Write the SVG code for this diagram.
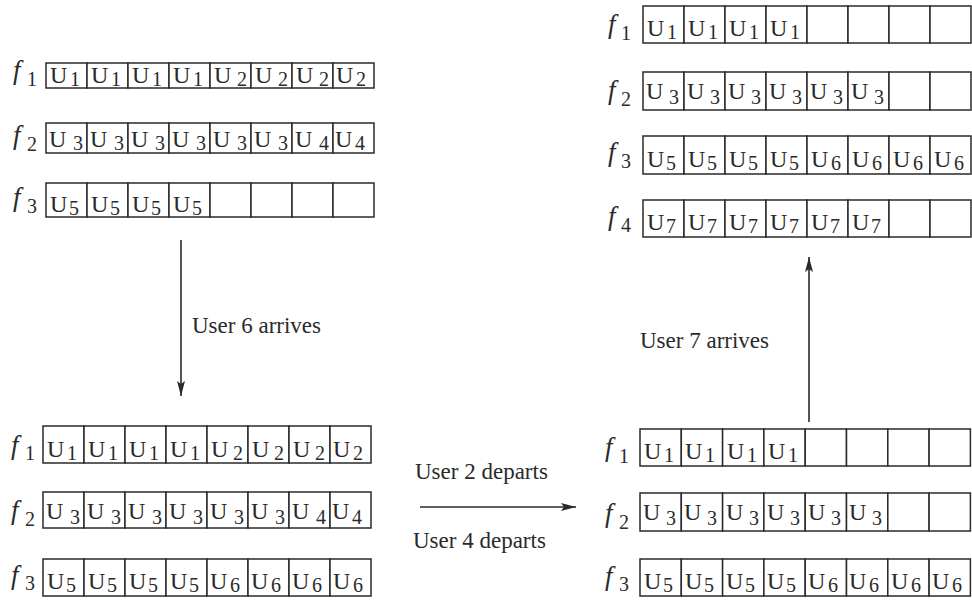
<svg xmlns="http://www.w3.org/2000/svg" width="972" height="603" viewBox="0 0 972 603">
  <style>
    .cell { fill: #fff; stroke: #2a2a2a; stroke-width: 1.5; }
    .u { font-family: "Liberation Serif", "Times New Roman", serif; font-size: 24px; fill: #2a2a2a; }
    .s { font-size: 20px; }
    .f { font-family: "Liberation Serif", "Times New Roman", serif; font-style: italic; font-size: 27px; fill: #2a2a2a; }
    .fs { font-style: normal; font-size: 20px; }
    .lbl { font-family: "Liberation Serif", "Times New Roman", serif; font-size: 23px; fill: #2a2a2a; }
    .arrow { stroke: #2a2a2a; stroke-width: 1.6; fill: none; marker-end: url(#head); }
  </style>
  <defs>
    <marker id="head" markerUnits="userSpaceOnUse" markerWidth="16" markerHeight="10" refX="15" refY="5" orient="auto">
      <path d="M0,1 L15,5 L0,9 L3,5 Z" fill="#2a2a2a"/>
    </marker>
  </defs>

  <!-- ===== Initial allocation (top left) ===== -->
  <g id="stateA">
    <g id="A-f1">
      <text class="f" x="13" y="79">f<tspan class="fs" x="27" y="86">1</tspan></text>
      <rect class="cell" x="46" y="63" width="41" height="25"/><rect class="cell" x="87" y="63" width="41" height="25"/><rect class="cell" x="128" y="63" width="41" height="25"/><rect class="cell" x="169" y="63" width="41" height="25"/><rect class="cell" x="210" y="63" width="41" height="25"/><rect class="cell" x="251" y="63" width="41" height="25"/><rect class="cell" x="292" y="63" width="41" height="25"/><rect class="cell" x="333" y="63" width="41" height="25"/>
      <text class="u" y="83"><tspan x="50">U</tspan><tspan class="s" x="70" y="86">1</tspan><tspan x="91" y="83">U</tspan><tspan class="s" x="111" y="86">1</tspan><tspan x="132" y="83">U</tspan><tspan class="s" x="152" y="86">1</tspan><tspan x="173" y="83">U</tspan><tspan class="s" x="193" y="86">1</tspan><tspan x="214" y="83">U</tspan><tspan class="s" x="237" y="86">2</tspan><tspan x="255" y="83">U</tspan><tspan class="s" x="278" y="86">2</tspan><tspan x="296" y="83">U</tspan><tspan class="s" x="319" y="86">2</tspan><tspan x="336" y="83">U</tspan><tspan class="s" x="356" y="86">2</tspan></text>
    </g>
    <g id="A-f2">
      <text class="f" x="13" y="144">f<tspan class="fs" x="27" y="151">2</tspan></text>
      <rect class="cell" x="46" y="123" width="41" height="30"/><rect class="cell" x="87" y="123" width="41" height="30"/><rect class="cell" x="128" y="123" width="41" height="30"/><rect class="cell" x="169" y="123" width="41" height="30"/><rect class="cell" x="210" y="123" width="41" height="30"/><rect class="cell" x="251" y="123" width="41" height="30"/><rect class="cell" x="292" y="123" width="41" height="30"/><rect class="cell" x="333" y="123" width="41" height="30"/>
      <text class="u" y="147"><tspan x="49">U</tspan><tspan class="s" x="73" y="150">3</tspan><tspan x="90" y="147">U</tspan><tspan class="s" x="114" y="150">3</tspan><tspan x="131" y="147">U</tspan><tspan class="s" x="155" y="150">3</tspan><tspan x="172" y="147">U</tspan><tspan class="s" x="196" y="150">3</tspan><tspan x="213" y="147">U</tspan><tspan class="s" x="237" y="150">3</tspan><tspan x="254" y="147">U</tspan><tspan class="s" x="278" y="150">3</tspan><tspan x="295" y="147">U</tspan><tspan class="s" x="319" y="150">4</tspan><tspan x="335" y="147">U</tspan><tspan class="s" x="355" y="150">4</tspan></text>
    </g>
    <g id="A-f3">
      <text class="f" x="13" y="206">f<tspan class="fs" x="27" y="213">3</tspan></text>
      <rect class="cell" x="46" y="183" width="41" height="34"/><rect class="cell" x="87" y="183" width="41" height="34"/><rect class="cell" x="128" y="183" width="41" height="34"/><rect class="cell" x="169" y="183" width="41" height="34"/><rect class="cell" x="210" y="183" width="41" height="34"/><rect class="cell" x="251" y="183" width="41" height="34"/><rect class="cell" x="292" y="183" width="41" height="34"/><rect class="cell" x="333" y="183" width="41" height="34"/>
      <text class="u" y="212"><tspan x="50">U</tspan><tspan class="s" x="69" y="215">5</tspan><tspan x="91" y="212">U</tspan><tspan class="s" x="110" y="215">5</tspan><tspan x="132" y="212">U</tspan><tspan class="s" x="151" y="215">5</tspan><tspan x="173" y="212">U</tspan><tspan class="s" x="192" y="215">5</tspan></text>
    </g>
  </g>

  <!-- ===== After user 6 arrives (bottom left) ===== -->
  <g id="stateB">
    <g id="B-f1">
      <text class="f" x="11" y="454">f<tspan class="fs" x="25" y="460">1</tspan></text>
      <rect class="cell" x="43" y="426" width="41" height="37"/><rect class="cell" x="84" y="426" width="41" height="37"/><rect class="cell" x="125" y="426" width="41" height="37"/><rect class="cell" x="166" y="426" width="41" height="37"/><rect class="cell" x="207" y="426" width="41" height="37"/><rect class="cell" x="248" y="426" width="41" height="37"/><rect class="cell" x="289" y="426" width="41" height="37"/><rect class="cell" x="330" y="426" width="41" height="37"/>
      <text class="u" y="457"><tspan x="47">U</tspan><tspan class="s" x="67" y="460">1</tspan><tspan x="88" y="457">U</tspan><tspan class="s" x="108" y="460">1</tspan><tspan x="129" y="457">U</tspan><tspan class="s" x="149" y="460">1</tspan><tspan x="170" y="457">U</tspan><tspan class="s" x="190" y="460">1</tspan><tspan x="211" y="457">U</tspan><tspan class="s" x="233" y="460">2</tspan><tspan x="252" y="457">U</tspan><tspan class="s" x="274" y="460">2</tspan><tspan x="293" y="457">U</tspan><tspan class="s" x="315" y="460">2</tspan><tspan x="333" y="457">U</tspan><tspan class="s" x="353" y="460">2</tspan></text>
    </g>
    <g id="B-f2">
      <text class="f" x="11" y="519">f<tspan class="fs" x="25" y="526">2</tspan></text>
      <rect class="cell" x="43" y="492" width="41" height="36"/><rect class="cell" x="84" y="492" width="41" height="36"/><rect class="cell" x="125" y="492" width="41" height="36"/><rect class="cell" x="166" y="492" width="41" height="36"/><rect class="cell" x="207" y="492" width="41" height="36"/><rect class="cell" x="248" y="492" width="41" height="36"/><rect class="cell" x="289" y="492" width="41" height="36"/><rect class="cell" x="330" y="492" width="41" height="36"/>
      <text class="u" y="519"><tspan x="46">U</tspan><tspan class="s" x="70" y="524">3</tspan><tspan x="87" y="519">U</tspan><tspan class="s" x="111" y="524">3</tspan><tspan x="128" y="519">U</tspan><tspan class="s" x="152" y="524">3</tspan><tspan x="169" y="519">U</tspan><tspan class="s" x="193" y="524">3</tspan><tspan x="210" y="519">U</tspan><tspan class="s" x="234" y="524">3</tspan><tspan x="251" y="519">U</tspan><tspan class="s" x="275" y="524">3</tspan><tspan x="292" y="519">U</tspan><tspan class="s" x="316" y="524">4</tspan><tspan x="332" y="519">U</tspan><tspan class="s" x="352" y="524">4</tspan></text>
    </g>
    <g id="B-f3">
      <text class="f" x="11" y="584">f<tspan class="fs" x="25" y="590">3</tspan></text>
      <rect class="cell" x="43" y="559" width="41" height="37"/><rect class="cell" x="84" y="559" width="41" height="37"/><rect class="cell" x="125" y="559" width="41" height="37"/><rect class="cell" x="166" y="559" width="41" height="37"/><rect class="cell" x="207" y="559" width="41" height="37"/><rect class="cell" x="248" y="559" width="41" height="37"/><rect class="cell" x="289" y="559" width="41" height="37"/><rect class="cell" x="330" y="559" width="41" height="37"/>
      <text class="u" y="589"><tspan x="47">U</tspan><tspan class="s" x="66" y="592">5</tspan><tspan x="88" y="589">U</tspan><tspan class="s" x="107" y="592">5</tspan><tspan x="129" y="589">U</tspan><tspan class="s" x="148" y="592">5</tspan><tspan x="170" y="589">U</tspan><tspan class="s" x="189" y="592">5</tspan><tspan x="210" y="589">U</tspan><tspan class="s" x="230" y="592">6</tspan><tspan x="251" y="589">U</tspan><tspan class="s" x="271" y="592">6</tspan><tspan x="292" y="589">U</tspan><tspan class="s" x="312" y="592">6</tspan><tspan x="333" y="589">U</tspan><tspan class="s" x="353" y="592">6</tspan></text>
    </g>
  </g>

  <!-- ===== After users 2 and 4 depart (bottom right) ===== -->
  <g id="stateC">
    <g id="C-f1">
      <text class="f" x="605" y="456">f<tspan class="fs" x="619" y="463">1</tspan></text>
      <rect class="cell" x="640" y="429" width="41.3" height="37"/><rect class="cell" x="681.3" y="429" width="41.3" height="37"/><rect class="cell" x="722.6" y="429" width="41.3" height="37"/><rect class="cell" x="763.9" y="429" width="41.3" height="37"/><rect class="cell" x="805.2" y="429" width="41.3" height="37"/><rect class="cell" x="846.5" y="429" width="41.3" height="37"/><rect class="cell" x="887.8" y="429" width="41.3" height="37"/><rect class="cell" x="929.1" y="429" width="41.3" height="37"/>
      <text class="u" y="459"><tspan x="644">U</tspan><tspan class="s" x="664" y="462">1</tspan><tspan x="685" y="459">U</tspan><tspan class="s" x="705" y="462">1</tspan><tspan x="727" y="459">U</tspan><tspan class="s" x="747" y="462">1</tspan><tspan x="768" y="459">U</tspan><tspan class="s" x="788" y="462">1</tspan></text>
    </g>
    <g id="C-f2">
      <text class="f" x="605" y="522">f<tspan class="fs" x="619" y="529">2</tspan></text>
      <rect class="cell" x="640" y="493" width="41.3" height="38"/><rect class="cell" x="681.3" y="493" width="41.3" height="38"/><rect class="cell" x="722.6" y="493" width="41.3" height="38"/><rect class="cell" x="763.9" y="493" width="41.3" height="38"/><rect class="cell" x="805.2" y="493" width="41.3" height="38"/><rect class="cell" x="846.5" y="493" width="41.3" height="38"/><rect class="cell" x="887.8" y="493" width="41.3" height="38"/><rect class="cell" x="929.1" y="493" width="41.3" height="38"/>
      <text class="u" y="520"><tspan x="643">U</tspan><tspan class="s" x="666" y="525">3</tspan><tspan x="684" y="520">U</tspan><tspan class="s" x="707" y="525">3</tspan><tspan x="726" y="520">U</tspan><tspan class="s" x="749" y="525">3</tspan><tspan x="767" y="520">U</tspan><tspan class="s" x="790" y="525">3</tspan><tspan x="808" y="520">U</tspan><tspan class="s" x="831" y="525">3</tspan><tspan x="849" y="520">U</tspan><tspan class="s" x="872" y="525">3</tspan></text>
    </g>
    <g id="C-f3">
      <text class="f" x="605" y="585">f<tspan class="fs" x="619" y="591">3</tspan></text>
      <rect class="cell" x="640" y="559" width="41.3" height="37"/><rect class="cell" x="681.3" y="559" width="41.3" height="37"/><rect class="cell" x="722.6" y="559" width="41.3" height="37"/><rect class="cell" x="763.9" y="559" width="41.3" height="37"/><rect class="cell" x="805.2" y="559" width="41.3" height="37"/><rect class="cell" x="846.5" y="559" width="41.3" height="37"/><rect class="cell" x="887.8" y="559" width="41.3" height="37"/><rect class="cell" x="929.1" y="559" width="41.3" height="37"/>
      <text class="u" y="589"><tspan x="644">U</tspan><tspan class="s" x="663" y="592">5</tspan><tspan x="685" y="589">U</tspan><tspan class="s" x="704" y="592">5</tspan><tspan x="726" y="589">U</tspan><tspan class="s" x="745" y="592">5</tspan><tspan x="767" y="589">U</tspan><tspan class="s" x="786" y="592">5</tspan><tspan x="808" y="589">U</tspan><tspan class="s" x="828" y="592">6</tspan><tspan x="849" y="589">U</tspan><tspan class="s" x="869" y="592">6</tspan><tspan x="891" y="589">U</tspan><tspan class="s" x="911" y="592">6</tspan><tspan x="932" y="589">U</tspan><tspan class="s" x="952" y="592">6</tspan></text>
    </g>
  </g>

  <!-- ===== After user 7 arrives (top right) ===== -->
  <g id="stateD">
    <g id="D-f1">
      <text class="f" x="608" y="33">f<tspan class="fs" x="621" y="40">1</tspan></text>
      <rect class="cell" x="643" y="6" width="41" height="37"/><rect class="cell" x="684" y="6" width="41" height="37"/><rect class="cell" x="725" y="6" width="41" height="37"/><rect class="cell" x="766" y="6" width="41" height="37"/><rect class="cell" x="807" y="6" width="41" height="37"/><rect class="cell" x="848" y="6" width="41" height="37"/><rect class="cell" x="889" y="6" width="41" height="37"/><rect class="cell" x="930" y="6" width="41" height="37"/>
      <text class="u" y="36"><tspan x="647">U</tspan><tspan class="s" x="667" y="39">1</tspan><tspan x="688" y="36">U</tspan><tspan class="s" x="708" y="39">1</tspan><tspan x="729" y="36">U</tspan><tspan class="s" x="749" y="39">1</tspan><tspan x="770" y="36">U</tspan><tspan class="s" x="790" y="39">1</tspan></text>
    </g>
    <g id="D-f2">
      <text class="f" x="608" y="99">f<tspan class="fs" x="621" y="106">2</tspan></text>
      <rect class="cell" x="643" y="72" width="41" height="38"/><rect class="cell" x="684" y="72" width="41" height="38"/><rect class="cell" x="725" y="72" width="41" height="38"/><rect class="cell" x="766" y="72" width="41" height="38"/><rect class="cell" x="807" y="72" width="41" height="38"/><rect class="cell" x="848" y="72" width="41" height="38"/><rect class="cell" x="889" y="72" width="41" height="38"/><rect class="cell" x="930" y="72" width="41" height="38"/>
      <text class="u" y="99"><tspan x="646">U</tspan><tspan class="s" x="669" y="104">3</tspan><tspan x="687" y="99">U</tspan><tspan class="s" x="710" y="104">3</tspan><tspan x="728" y="99">U</tspan><tspan class="s" x="751" y="104">3</tspan><tspan x="769" y="99">U</tspan><tspan class="s" x="792" y="104">3</tspan><tspan x="810" y="99">U</tspan><tspan class="s" x="833" y="104">3</tspan><tspan x="851" y="99">U</tspan><tspan class="s" x="874" y="104">3</tspan></text>
    </g>
    <g id="D-f3">
      <text class="f" x="608" y="161">f<tspan class="fs" x="621" y="168">3</tspan></text>
      <rect class="cell" x="643" y="136" width="41" height="38"/><rect class="cell" x="684" y="136" width="41" height="38"/><rect class="cell" x="725" y="136" width="41" height="38"/><rect class="cell" x="766" y="136" width="41" height="38"/><rect class="cell" x="807" y="136" width="41" height="38"/><rect class="cell" x="848" y="136" width="41" height="38"/><rect class="cell" x="889" y="136" width="41" height="38"/><rect class="cell" x="930" y="136" width="41" height="38"/>
      <text class="u" y="167"><tspan x="647">U</tspan><tspan class="s" x="666" y="170">5</tspan><tspan x="688" y="167">U</tspan><tspan class="s" x="707" y="170">5</tspan><tspan x="729" y="167">U</tspan><tspan class="s" x="748" y="170">5</tspan><tspan x="770" y="167">U</tspan><tspan class="s" x="789" y="170">5</tspan><tspan x="811" y="167">U</tspan><tspan class="s" x="831" y="170">6</tspan><tspan x="852" y="167">U</tspan><tspan class="s" x="872" y="170">6</tspan><tspan x="893" y="167">U</tspan><tspan class="s" x="913" y="170">6</tspan><tspan x="934" y="167">U</tspan><tspan class="s" x="954" y="170">6</tspan></text>
    </g>
    <g id="D-f4">
      <text class="f" x="608" y="225">f<tspan class="fs" x="621" y="232">4</tspan></text>
      <rect class="cell" x="643" y="200" width="41" height="37"/><rect class="cell" x="684" y="200" width="41" height="37"/><rect class="cell" x="725" y="200" width="41" height="37"/><rect class="cell" x="766" y="200" width="41" height="37"/><rect class="cell" x="807" y="200" width="41" height="37"/><rect class="cell" x="848" y="200" width="41" height="37"/><rect class="cell" x="889" y="200" width="41" height="37"/><rect class="cell" x="930" y="200" width="41" height="37"/>
      <text class="u" y="230"><tspan x="647">U</tspan><tspan class="s" x="666" y="233">7</tspan><tspan x="688" y="230">U</tspan><tspan class="s" x="707" y="233">7</tspan><tspan x="729" y="230">U</tspan><tspan class="s" x="748" y="233">7</tspan><tspan x="770" y="230">U</tspan><tspan class="s" x="789" y="233">7</tspan><tspan x="811" y="230">U</tspan><tspan class="s" x="830" y="233">7</tspan><tspan x="852" y="230">U</tspan><tspan class="s" x="871" y="233">7</tspan></text>
    </g>
  </g>

  <!-- ===== Transitions ===== -->
  <g id="connectors">
    <line class="arrow" x1="181" y1="240" x2="181" y2="396"/>
    <text class="lbl" x="192" y="333">User 6 arrives</text>

    <line class="arrow" x1="420" y1="507" x2="576" y2="507"/>
    <text class="lbl" x="415" y="479">User 2 departs</text>
    <text class="lbl" x="413" y="548">User 4 departs</text>

    <line class="arrow" x1="809" y1="422" x2="809" y2="257"/>
    <text class="lbl" x="640" y="348">User 7 arrives</text>
  </g>
</svg>
